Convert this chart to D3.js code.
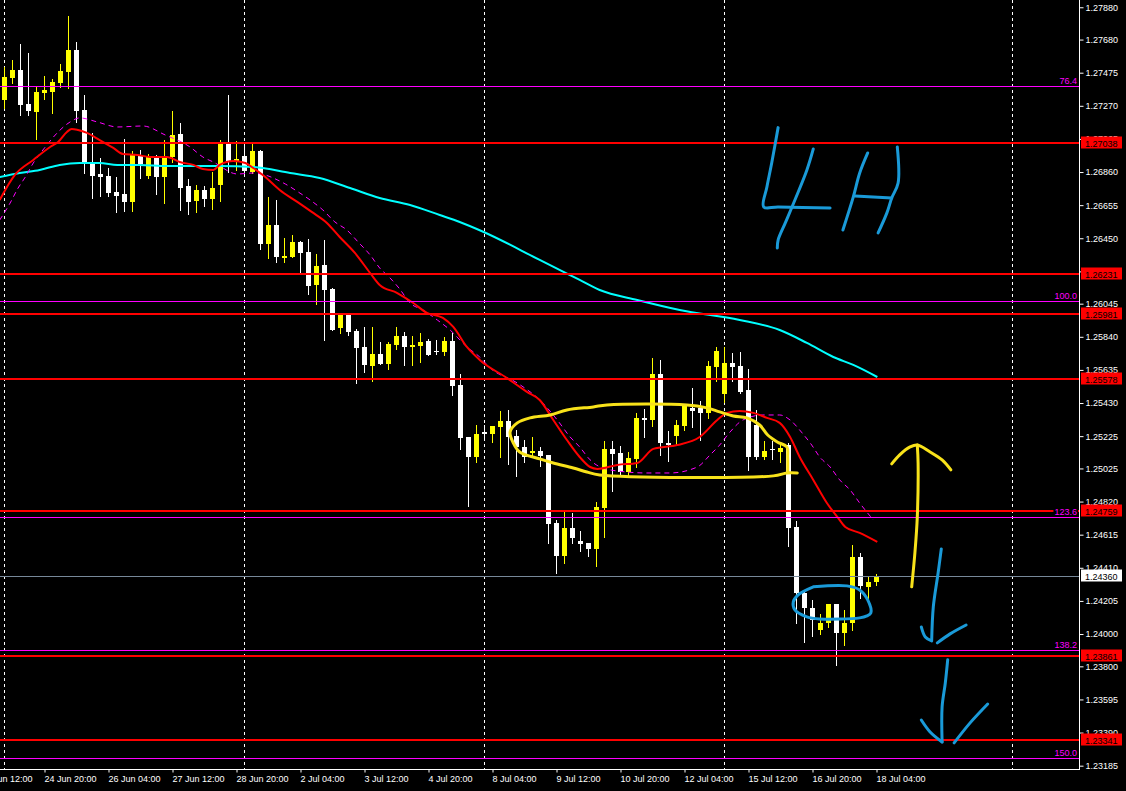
<!doctype html>
<html>
<head>
<meta charset="utf-8">
<script src="https://cdnjs.cloudflare.com/ajax/libs/d3/7.8.5/d3.min.js"></script>
<style>
  body { margin: 0; background: #000; overflow: hidden; }
  svg { display: block; background: #000; }
  text { font-family: "Liberation Sans", Arial, sans-serif; font-size: 9px; }
</style>
</head>
<body>
<svg id="chart" width="1126" height="791"></svg>
<script>
// ---- data (GBPUSD H4) ----
// candles: [open, high, low, close], one per 4h bar, first bar = 24 Jun 00:00
const ohlc = [
  [1.27306,1.27510,1.27256,1.27448],[1.27444,1.27554,1.27411,1.27492],[1.27492,1.27653,1.27213,1.27275],
  [1.27281,1.27597,1.27213,1.27238],[1.27232,1.27393,1.27065,1.27356],[1.27349,1.27455,1.27312,1.27368],
  [1.27356,1.27436,1.27226,1.27417],[1.27411,1.27529,1.27387,1.27486],[1.27479,1.27826,1.27380,1.27616],
  [1.27616,1.27665,1.27170,1.27238],[1.27244,1.27337,1.26854,1.26910],[1.26916,1.27102,1.26699,1.26836],
  [1.26848,1.26947,1.26712,1.26829],[1.26836,1.26885,1.26712,1.26730],[1.26737,1.26829,1.26613,1.26712],
  [1.26724,1.27065,1.26619,1.26675],[1.26675,1.26990,1.26619,1.26966],[1.26966,1.26997,1.26823,1.26910],
  [1.26836,1.26972,1.26823,1.26959],[1.26959,1.26966,1.26724,1.26829],[1.26829,1.27058,1.26668,1.26959],
  [1.26953,1.27238,1.26922,1.27089],[1.27096,1.27164,1.26625,1.26761],[1.26774,1.26817,1.26600,1.26675],
  [1.26681,1.26780,1.26613,1.26749],[1.26749,1.26774,1.26650,1.26693],[1.26693,1.26860,1.26631,1.26761],
  [1.26780,1.27058,1.26681,1.27040],[1.27040,1.27337,1.26860,1.26928],[1.26928,1.27052,1.26873,1.26941],
  [1.26959,1.27034,1.26848,1.26867],[1.26862,1.27046,1.26854,1.26992],[1.26990,1.26997,1.26386,1.26417],
  [1.26417,1.26706,1.26330,1.26532],[1.26532,1.26687,1.26305,1.26336],[1.26332,1.26454,1.26305,1.26342],
  [1.26334,1.26470,1.26334,1.26427],[1.26427,1.26433,1.26241,1.26361],[1.26365,1.26446,1.26105,1.26157],
  [1.26161,1.26353,1.26045,1.26279],[1.26285,1.26439,1.25820,1.26130],[1.26136,1.26142,1.25882,1.25882],
  [1.25895,1.25989,1.25864,1.25983],[1.25975,1.25987,1.25851,1.25870],[1.25876,1.25889,1.25554,1.25771],
  [1.25777,1.25901,1.25622,1.25666],[1.25659,1.25901,1.25568,1.25734],[1.25734,1.25808,1.25672,1.25672],
  [1.25672,1.25808,1.25641,1.25796],[1.25790,1.25901,1.25765,1.25845],[1.25845,1.25870,1.25666,1.25777],
  [1.25777,1.25845,1.25666,1.25790],[1.25783,1.25864,1.25684,1.25808],[1.25814,1.25827,1.25728,1.25728],
  [1.25752,1.25820,1.25734,1.25746],[1.25746,1.25839,1.25728,1.25814],[1.25814,1.25864,1.25480,1.25536],
  [1.25542,1.25610,1.25148,1.25216],[1.25222,1.25222,1.24795,1.25098],[1.25098,1.25294,1.25067,1.25239],
  [1.25251,1.25294,1.25201,1.25239],[1.25239,1.25288,1.25191,1.25288],[1.25282,1.25381,1.25098,1.25319],
  [1.25319,1.25387,1.25055,1.25222],[1.25226,1.25263,1.24980,1.25160],[1.25160,1.25201,1.25067,1.25098],
  [1.25123,1.25222,1.25098,1.25135],[1.25135,1.25160,1.25042,1.25104],[1.25109,1.25109,1.24566,1.24683],
  [1.24689,1.24706,1.24380,1.24485],[1.24485,1.24764,1.24442,1.24659],[1.24659,1.24751,1.24566,1.24597],
  [1.24578,1.24638,1.24516,1.24560],[1.24566,1.24566,1.24485,1.24529],[1.24529,1.24819,1.24423,1.24787],
  [1.24782,1.25197,1.24603,1.25148],[1.25148,1.25197,1.24888,1.25117],[1.25123,1.25166,1.24980,1.25005],
  [1.25005,1.25129,1.24980,1.25090],[1.25087,1.25370,1.25036,1.25338],[1.25338,1.25393,1.25217,1.25325],
  [1.25325,1.25709,1.25290,1.25610],[1.25610,1.25697,1.25109,1.25185],[1.25185,1.25254,1.25073,1.25172],
  [1.25227,1.25325,1.25170,1.25294],[1.25290,1.25424,1.25263,1.25424],[1.25400,1.25523,1.25284,1.25383],
  [1.25400,1.25445,1.25201,1.25370],[1.25370,1.25690,1.25336,1.25659],[1.25655,1.25777,1.25568,1.25752],
  [1.25486,1.25777,1.25438,1.25678],[1.25678,1.25740,1.25568,1.25655],[1.25659,1.25746,1.25494,1.25500],
  [1.25511,1.25641,1.25016,1.25094],[1.25294,1.25387,1.25082,1.25094],[1.25094,1.25195,1.25082,1.25133],
  [1.25144,1.25195,1.25082,1.25135],[1.25125,1.25177,1.25067,1.25150],[1.25170,1.25181,1.24545,1.24657],
  [1.24663,1.24700,1.24067,1.24253],[1.24253,1.24269,1.23949,1.24163],[1.24163,1.24213,1.23988,1.24087],
  [1.24025,1.24123,1.24001,1.24067],[1.24067,1.24186,1.24046,1.24186],[1.24186,1.24186,1.23809,1.24005],
  [1.24005,1.24149,1.23932,1.24067],[1.24067,1.24550,1.24025,1.24475],[1.24475,1.24500,1.24221,1.24293],
  [1.24293,1.24351,1.24225,1.24321],[1.24324,1.24370,1.24304,1.24360]
];

// moving averages as [bar, price] samples
const maRed = [[-0.6,1.26687],[1.3,1.26842],[3.6,1.26935],[5.7,1.27015],[6.7,1.27046],[7.8,1.27108],[8.4,1.27127],
  [9.2,1.27120],[10.3,1.27102],[11.9,1.27058],[13.6,1.27009],[14.8,1.26972],[16.6,1.26966],[18.2,1.26953],
  [20.3,1.26953],[21.9,1.26922],[23.6,1.26904],[24.8,1.26879],[26.1,1.26873],[26.9,1.26904],[28.6,1.26928],
  [30.1,1.26916],[31.1,1.26885],[32.6,1.26829],[34.4,1.26749],[36.6,1.26675],[38.4,1.26613],[40.3,1.26545],
  [41.9,1.26458],[43.8,1.26359],[45.7,1.26235],[46.9,1.26161],[49.1,1.26111],[51.1,1.26049],[52.8,1.25988],
  [54.8,1.25957],[56.1,1.25901],[57.8,1.25777],[59.4,1.25697],[62.8,1.25585],[65.3,1.25499],[66.9,1.25449],
  [68.6,1.25325],[70.3,1.25201],[71.9,1.25096],[73.2,1.25034],[74.1,1.25022],[76.6,1.25047],[79.1,1.25059],
  [81.1,1.25146],[84.1,1.25170],[86.9,1.25220],[89.1,1.25325],[90.3,1.25369],[91.9,1.25381],[93.6,1.25369],
  [95.3,1.25338],[96.9,1.25307],[98.2,1.25220],[99.4,1.25096],[101.1,1.24954],[102.8,1.24811],[104.1,1.24725],
  [105.1,1.24663],[106.9,1.24626],[109.1,1.24570]];

const maCyan = [[-0.6,1.26829],[1.9,1.26854],[4.4,1.26873],[6.9,1.26904],[9.4,1.26916],[11.9,1.26916],[14.1,1.26904],
  [16.9,1.26904],[20.3,1.26897],[23.6,1.26897],[26.9,1.26897],[31.1,1.26891],[35.7,1.26854],[39.4,1.26823],
  [43.2,1.26761],[46.9,1.26699],[50.7,1.26656],[54.4,1.26594],[56.9,1.26551],[59.9,1.26489],[66.9,1.26316],
  [71.9,1.26192],[74.4,1.26130],[79.1,1.26068],[84.4,1.26006],[91.9,1.25944],[96.9,1.25882],[100.3,1.25802],
  [103.6,1.25715],[106.1,1.25666],[109.1,1.25591]];

const maMagenta = [[-0.6,1.26563],[0.7,1.26668],[1.7,1.26761],[2.6,1.26829],[3.6,1.26916],[5.1,1.27015],[6.7,1.27108],
  [8.2,1.27170],[9.4,1.27195],[11.6,1.27170],[14.1,1.27139],[17.3,1.27145],[20.1,1.27089],[23.2,1.27015],
  [24.8,1.26953],[26.1,1.26922],[29.1,1.26848],[31.1,1.26854],[35.1,1.26786],[36.7,1.26737],[38.2,1.26687],
  [39.8,1.26625],[41.3,1.26551],[42.8,1.26501],[44.2,1.26427],[45.7,1.26347],[46.9,1.26266],[48.2,1.26204],
  [49.4,1.26136],[50.7,1.26049],[52.3,1.26006],[54.1,1.25944],[55.7,1.25882],[57.8,1.25777],[59.4,1.25715],
  [60.7,1.25647],[64.1,1.25554],[66.9,1.25449],[69.1,1.25325],[70.7,1.25220],[71.9,1.25158],[73.2,1.25078],
  [75.7,1.25016],[80.3,1.24997],[83.2,1.24997],[86.6,1.25034],[88.2,1.25109],[89.4,1.25170],[90.7,1.25251],
  [92.3,1.25325],[94.8,1.25356],[96.9,1.25356],[98.2,1.25325],[99.7,1.25245],[100.9,1.25170],[101.9,1.25096],
  [103.2,1.25034],[104.4,1.24954],[105.7,1.24892],[106.9,1.24811],[108.6,1.24706]];

// horizontal support / resistance levels
const levels = [1.27038, 1.26231, 1.25981, 1.25578, 1.24759, 1.23861, 1.23341];
const fibNames = ["76.4", "100.0", "123.6", "138.2", "150.0"];
const fibPrices = [1.27393, 1.26064, 1.24726, 1.23901, 1.23233];
const bidPrice = 1.24360;

// axes (1.26245 sits fully under the 1.26231 box, so only its tick mark shows)
const priceTicks = [1.27880,1.27680,1.27475,1.27270,1.27065,1.26860,1.26655,1.26450,1.26245,1.26045,1.25840,
  1.25635,1.25430,1.25225,1.25025,1.24820,1.24615,1.24410,1.24205,1.24000,1.23800,1.23595,1.23390,1.23185];
const hiddenTicks = [1.26245];
const timeBars = [-3, 5, 13, 21, 29, 37, 45, 53, 61, 69, 77, 85, 93, 101, 109];
const timeLabels = ["21 Jun 12:00","24 Jun 20:00","26 Jun 04:00","27 Jun 12:00","28 Jun 20:00","2 Jul 04:00",
  "3 Jul 12:00","4 Jul 20:00","8 Jul 04:00","9 Jul 12:00","10 Jul 20:00","12 Jul 04:00","15 Jul 12:00",
  "16 Jul 20:00","18 Jul 04:00"];
const weekBars = [0, 30, 60, 90, 126];

// hand-drawn marks, [bar, price]
const loopYellow = [[99.1,1.24997],[97.8,1.24997],[96.1,1.24979],[74.4,1.24985],[72.8,1.25003],[71.1,1.25028],
  [68.6,1.25059],[66.9,1.25084],[64.4,1.25127],[63.6,1.25183],[63.2,1.25251],[64.1,1.25307],[65.7,1.25338],
  [68.2,1.25356],[70.3,1.25387],[73.6,1.25406],[75.3,1.25418],[85.3,1.25418],[87.8,1.25400],[89.4,1.25375],
  [91.1,1.25350],[92.8,1.25338],[94.4,1.25294],[95.4,1.25232],[96.6,1.25189],[97.8,1.25158],[97.9,1.25096],
  [97.9,1.25003]];
const ringBlue = [[101.1,1.24292],[105.3,1.24298],[106.9,1.24273],[107.9,1.24211],[108.3,1.24131],[107.8,1.24112],
  [106.9,1.24100],[101.9,1.24093],[100.3,1.24106],[98.8,1.24149],[98.6,1.24199],[99.2,1.24242],[101.1,1.24292]];
const glyph4H = [
  [[96.7,1.27135],[95.9,1.26916],[95.3,1.26767],[94.9,1.26644],[96.7,1.26644],[103.2,1.26637]],
  [[101.1,1.27003],[100.3,1.26873],[98.8,1.26687],[97.6,1.26545],[96.7,1.26439],[96.6,1.26390]],
  [[107.9,1.26978],[106.9,1.26854],[106.1,1.26706],[104.8,1.26501]],
  [[106.3,1.26712],[110.9,1.26699]],
  [[111.6,1.27015],[111.7,1.26792],[110.9,1.26699],[110.3,1.26607],[109.2,1.26483]]];
const arrowUp = [
  [[113.4,1.24292],[113.8,1.24502],[114.1,1.24725],[114.2,1.25059],[114.1,1.25170]],
  [[110.9,1.25053],[111.9,1.25109],[113.2,1.25158],[114.1,1.25170],[115.7,1.25127],[117.2,1.25078],[118.3,1.25016]]];
const arrowsDown = [
  [[117.1,1.24527],[116.7,1.24378],[116.1,1.24168],[115.9,1.23963]],
  [[114.6,1.24044],[115.1,1.23982],[115.9,1.23957]],
  [[116.6,1.23945],[118.2,1.24001],[120.2,1.24056]],
  [[117.9,1.23840],[117.6,1.23697],[117.2,1.23549],[117.2,1.23332]],
  [[114.6,1.23468],[115.7,1.23394],[117.2,1.23332]],
  [[118.7,1.23326],[120.7,1.23450],[122.9,1.23567]]];

// ---- layout ----
const plotR = 1079.5, plotB = 769.5;
const svg = d3.select("#chart");

const x = d3.scaleLinear().domain([0, 134]).range([4.5, 4.5 + 8 * 134]);
const y = d3.scaleLinear().domain([1.231644, 1.27925]).range([769, 0]);

svg.append("defs").append("clipPath").attr("id", "plot")
  .append("rect").attr("x", 0).attr("y", 0).attr("width", plotR).attr("height", plotB);

const plot = svg.append("g").attr("clip-path", "url(#plot)");

// weekly separators
plot.selectAll("line.week").data(weekBars).enter().append("line")
  .attr("x1", d => x(d)).attr("x2", d => x(d)).attr("y1", 0).attr("y2", plotB)
  .attr("stroke", "#fff").attr("stroke-width", 1).attr("stroke-dasharray", "3,3")
  .attr("shape-rendering", "crispEdges");

// candles
const bar = plot.selectAll("g.candle").data(ohlc).enter().append("g")
  .attr("fill", d => d[3] >= d[0] ? "#ffff00" : "#ffffff")
  .attr("stroke", d => d[3] >= d[0] ? "#ffff00" : "#ffffff");
bar.append("line")
  .attr("x1", (d, i) => x(i)).attr("x2", (d, i) => x(i))
  .attr("y1", d => Math.round(y(d[1]))).attr("y2", d => Math.round(y(d[2])) + 1)
  .attr("stroke-width", 1).attr("shape-rendering", "crispEdges");
bar.append("rect")
  .attr("x", (d, i) => x(i) - 2.5).attr("width", 5)
  .attr("y", d => Math.round(y(Math.max(d[0], d[3]))))
  .attr("height", d => Math.max(1, Math.round(Math.abs(y(d[0]) - y(d[3])))))
  .attr("stroke", "none").attr("shape-rendering", "crispEdges");

// moving averages
const maLine = d3.line().x(d => x(d[0])).y(d => y(d[1])).curve(d3.curveMonotoneX);
plot.append("path").datum(maCyan).attr("d", maLine)
  .attr("fill", "none").attr("stroke", "#00ffff").attr("stroke-width", 2);
plot.append("path").datum(maMagenta).attr("d", maLine)
  .attr("fill", "none").attr("stroke", "#ff00ff").attr("stroke-width", 1).attr("stroke-dasharray", "5,4");
plot.append("path").datum(maRed).attr("d", maLine)
  .attr("fill", "none").attr("stroke", "#ff0000").attr("stroke-width", 2);

// levels
plot.selectAll("line.lvl").data(levels).enter().append("line")
  .attr("x1", 0).attr("x2", plotR).attr("y1", d => Math.round(y(d))).attr("y2", d => Math.round(y(d)))
  .attr("stroke", "#ff0000").attr("stroke-width", 2).attr("shape-rendering", "crispEdges");
plot.selectAll("line.fib").data(fibPrices).enter().append("line")
  .attr("x1", 0).attr("x2", plotR).attr("y1", d => Math.round(y(d)) + 0.5).attr("y2", d => Math.round(y(d)) + 0.5)
  .attr("stroke", "#ff00ff").attr("stroke-width", 1).attr("shape-rendering", "crispEdges");
plot.append("line")
  .attr("x1", 0).attr("x2", plotR).attr("y1", Math.round(y(bidPrice)) + 0.5).attr("y2", Math.round(y(bidPrice)) + 0.5)
  .attr("stroke", "#778899").attr("stroke-width", 1).attr("shape-rendering", "crispEdges");

// fib labels
const fibG = plot.selectAll("g.fibl").data(fibPrices).enter().append("g");
fibG.append("rect").attr("fill", "#000");
fibG.append("text")
  .attr("x", 1077).attr("y", d => Math.round(y(d)) - 2)
  .attr("text-anchor", "end").attr("fill", "#ff00ff")
  .text((d, i) => fibNames[i]);
fibG.each(function() {
  const b = d3.select(this).select("text").node().getBBox();
  d3.select(this).select("rect").attr("x", b.x - 1).attr("y", b.y).attr("width", b.width + 2).attr("height", b.height);
});

// hand-drawn annotations
const pen = d3.line().x(d => x(d[0])).y(d => y(d[1])).curve(d3.curveCatmullRom.alpha(0.5));
const ink = plot.append("g").attr("fill", "none").attr("stroke-width", 3)
  .attr("stroke-linecap", "round").attr("stroke-linejoin", "round");
ink.append("path").datum(loopYellow).attr("d", pen).attr("stroke", "#f8e21a");
ink.selectAll("path.up").data(arrowUp).enter().append("path").attr("d", pen).attr("stroke", "#f8e21a");
ink.append("path").datum(ringBlue).attr("d", pen).attr("stroke", "#1a9ad8");
ink.selectAll("path.g4h").data(glyph4H).enter().append("path").attr("d", pen).attr("stroke", "#1a9ad8");
ink.selectAll("path.dn").data(arrowsDown).enter().append("path").attr("d", pen).attr("stroke", "#1a9ad8");

// price axis
const fmt = d3.format(".5f");
const yAxis = svg.append("g").attr("transform", `translate(${plotR},0)`)
  .call(d3.axisRight(y).tickValues(priceTicks)
    .tickFormat(d => hiddenTicks.includes(d) ? "" : fmt(d))
    .tickSize(4).tickSizeOuter(0).tickPadding(2));
yAxis.select(".domain").remove();
yAxis.attr("font-family", null).attr("font-size", null);
yAxis.selectAll("line").attr("stroke", "#fff");
yAxis.selectAll("text").attr("fill", "#fff");

// time axis
const xAxis = svg.append("g").attr("transform", `translate(0,${plotB})`)
  .call(d3.axisBottom(x).tickValues(timeBars).tickFormat((d, i) => timeLabels[i])
    .tickSize(3).tickSizeOuter(0).tickPadding(3));
xAxis.select(".domain").remove();
xAxis.attr("font-family", null).attr("font-size", null);
xAxis.selectAll("line").attr("stroke", "#fff");
xAxis.selectAll("text").attr("fill", "#fff").attr("text-anchor", "start").attr("x", -0.5);

// frame
svg.append("line").attr("x1", plotR).attr("x2", plotR).attr("y1", 0).attr("y2", plotB)
  .attr("stroke", "#fff").attr("shape-rendering", "crispEdges");
svg.append("line").attr("x1", 0).attr("x2", plotR).attr("y1", plotB).attr("y2", plotB)
  .attr("stroke", "#fff").attr("shape-rendering", "crispEdges");

// level price boxes
const boxes = svg.selectAll("g.box").data(levels.map(v => [v, "#ff0000"]).concat([[bidPrice, "#ffffff"]]))
  .enter().append("g");
boxes.append("rect")
  .attr("x", 1081).attr("width", 41).attr("height", 12)
  .attr("y", d => Math.round(y(d[0])) - 6.5)
  .attr("fill", d => d[1]);
boxes.append("text")
  .attr("x", 1085).attr("y", d => Math.round(y(d[0])) + 0.5).attr("dy", "0.34em")
  .attr("fill", "#000").text(d => fmt(d[0]));
</script>
</body>
</html>
